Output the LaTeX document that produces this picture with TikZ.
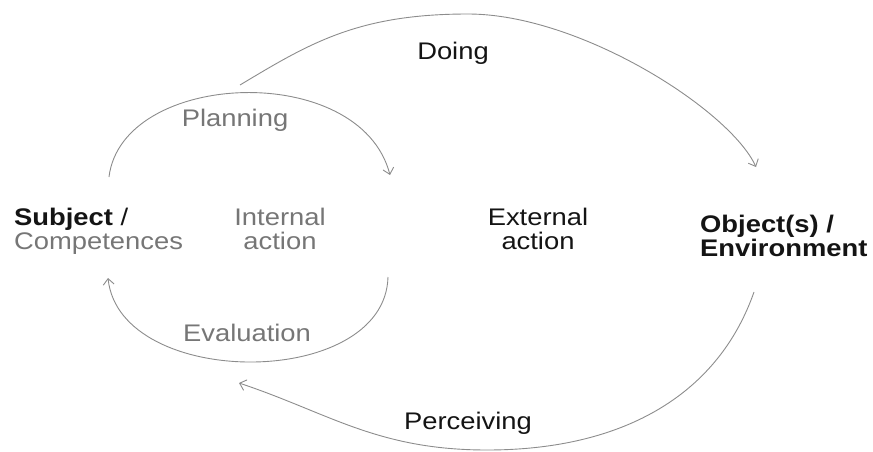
\documentclass[tikz,border=0pt]{standalone}
\usepackage{fontspec}
\setmainfont{Liberation Sans}[FakeStretch=1.14]
\usetikzlibrary{arrows.meta}
\definecolor{inkgray}{RGB}{118,118,118}
\definecolor{arcgray}{RGB}{140,140,140}
\definecolor{inkdark}{RGB}{20,20,20}
\begin{document}
\begin{tikzpicture}[x=1pt,y=1pt,
  lbl/.style={inner sep=0pt, font=\fontsize{24}{24}\selectfont, text=inkdark, align=center},
  soft/.style={lbl, text=inkgray},
  loop/.style={draw=arcgray, line width=0.9pt, -{Straight Barb[length=6pt,width=11pt]}}]
\useasboundingbox (0,0) rectangle (873,451);

% labels
\node[lbl]  (doing)    at (453,398) {Doing};
\node[soft] (planning) at (235,331) {Planning};
\node[lbl, anchor=west, align=left] (subject) at (14,219.5)
  {\textbf{Subject} /\\\textcolor{inkgray}{Competences}};
\node[soft] (internal) at (280,222.5) {Internal\\action};
\node[lbl]  (external) at (538,222) {External\\action};
\node[lbl, anchor=west, align=left, font=\fontsize{24}{24}\selectfont\bfseries] (object) at (700,215.5)
  {Object(s) /\\Environment};
\node[soft] (evaluation) at (247,118) {Evaluation};
\node[lbl]  (perceiving) at (468,28) {Perceiving};

% arc end points
\coordinate (doingA) at (240,366);
\coordinate (doingB) at (756,284);
\coordinate (planA) at (109,274);
\coordinate (planB) at (390,276);
\coordinate (evalA) at (388,174);
\coordinate (evalB) at (108,173);
\coordinate (percA) at (754,159);
\coordinate (percB) at (239,68);

% outer loop: subject -> environment -> subject
\draw[loop] (doingA) .. controls (310,408) and (358,437) .. (468,437)
                     .. controls (580,437) and (730,341) .. (doingB);
\draw[loop] (percA) .. controls (719,59) and (627,1) .. (487,1)
                    .. controls (377,1) and (329,38) .. (percB);

% inner loop: planning and evaluation
\draw[loop] (planA) .. controls (122,381) and (360,391) .. (planB);
\draw[loop] (evalA) .. controls (385,61) and (120,61) .. (evalB);
\end{tikzpicture}
\end{document}
